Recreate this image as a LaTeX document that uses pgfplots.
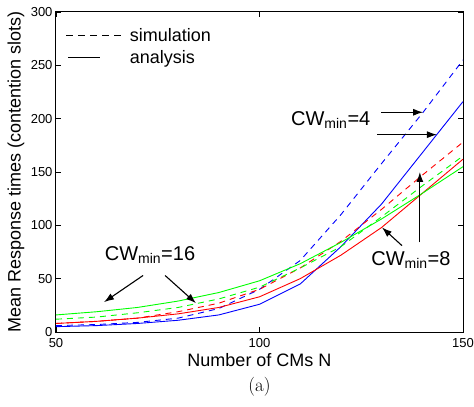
\documentclass[border=0pt]{standalone}
\usepackage{fontspec}
\setmainfont{Liberation Sans}
\newfontfamily\serif{Latin Modern Roman}
\usepackage{pgfplots}
\pgfplotsset{compat=1.18}
\usetikzlibrary{arrows.meta}

\definecolor{mblue}{rgb}{0,0,1}
\definecolor{mred}{rgb}{1,0,0}
\definecolor{mgreen}{rgb}{0,1,0}

\tikzset{ann/.style={-{Latex[length=10pt,width=7pt]}, line width=1.1pt}}

\begin{document}
\begin{tikzpicture}
\useasboundingbox (-56pt,-75pt) rectangle (418pt,332pt);
\begin{axis}[
    at={(0pt,0pt)}, anchor=south west,
    scale only axis,
    width=407pt, height=320pt,
    xmin=50, xmax=150, ymin=0, ymax=300,
    xtick={50,100,150},
    ytick={0,50,...,300},
    tick align=inside,
    major tick length=5pt,
    axis line style={line width=1pt},
    tick style={black, line width=0.6pt},
    /pgf/number format/assume math mode=true,
    tick label style={font=\fontsize{13}{15}\selectfont},
    xticklabel style={yshift=-3pt},
    xlabel={Number of CMs N},
    ylabel={Mean Response times (contention slots)},
    label style={font=\fontsize{18}{21}\selectfont},
    xlabel style={at={(axis description cs:0.5,0)}, anchor=center, yshift=-28pt},
    ylabel style={at={(axis description cs:0,0.5)}, anchor=center, yshift=40pt},
    legend style={draw=none, fill=none, at={(axis description cs:0.024,0.955)}, anchor=north west,
        font=\fontsize{18}{21}\selectfont, row sep=3pt, inner sep=0pt,
        /tikz/every odd column/.append style={column sep=6pt}},
    legend cell align=left,
    every axis plot/.append style={line width=0.9pt},
    clip=true,
]
\addlegendimage{legend image code/.code={%
  \draw[black, line width=1pt, dash pattern=on 7pt off 5pt] (0pt,0pt) -- (55pt,0pt);}}
\addlegendentry{simulation}
\addlegendimage{legend image code/.code={%
  \draw[black, line width=1.3pt] (2pt,0pt) -- (34pt,0pt);}}
\addlegendentry{analysis}

% CW_min = 4
\addplot[mblue, dash pattern=on 6pt off 5pt, forget plot] coordinates {
 (50,6) (60,7) (70,9) (80,13) (90,22) (100,40) (110,67) (120,110) (130,158) (140,205) (150,255)};
\addplot[mblue, forget plot] coordinates {
 (50,5) (60,6) (70,8) (80,11) (90,16) (100,26) (110,45) (120,80) (130,120) (140,168) (150,216)};
% CW_min = 8
\addplot[mred, dash pattern=on 6pt off 5pt, forget plot] coordinates {
 (50,8) (60,10) (70,13) (80,19) (90,27) (100,40) (110,60) (120,85) (130,115) (140,147) (150,178)};
\addplot[mred, forget plot] coordinates {
 (50,8) (60,10) (70,13) (80,17) (90,23) (100,33) (110,50) (120,72) (130,98) (140,130) (150,162)};
% CW_min = 16
\addplot[mgreen, dash pattern=on 6pt off 5pt, forget plot] coordinates {
 (50,12) (60,14) (70,18) (80,23) (90,31) (100,42) (110,60) (120,80) (130,108) (140,137) (150,165)};
\addplot[mgreen, forget plot] coordinates {
 (50,16) (60,19) (70,23) (80,29) (90,37) (100,48) (110,64) (120,84) (130,106) (140,130) (150,155)};

% annotations
\node[font=\fontsize{20}{22}\selectfont] at (axis cs:117.5,199) {CW$_{\mathrm{min}}$=4};
\draw[ann] (axis cs:129.9,206) -- (axis cs:140.2,206);
\draw[ann] (axis cs:128.9,185) -- (axis cs:143.6,185);

\node[font=\fontsize{20}{22}\selectfont] at (axis cs:73.1,72) {CW$_{\mathrm{min}}$=16};
\draw[ann] (axis cs:71.4,53) -- (axis cs:61.8,28);
\draw[ann] (axis cs:76.8,53) -- (axis cs:84.4,27);

\node[font=\fontsize{20}{22}\selectfont] at (axis cs:137.2,67.5) {CW$_{\mathrm{min}}$=8};
\draw[ann] (axis cs:135,81) -- (axis cs:130.1,98);
\draw[ann] (axis cs:139.4,84) -- (axis cs:139.4,150);
\end{axis}
\node[font=\serif\fontsize{19}{21}\selectfont] at (203.5pt,-55pt) {(a)};
\end{tikzpicture}
\end{document}
